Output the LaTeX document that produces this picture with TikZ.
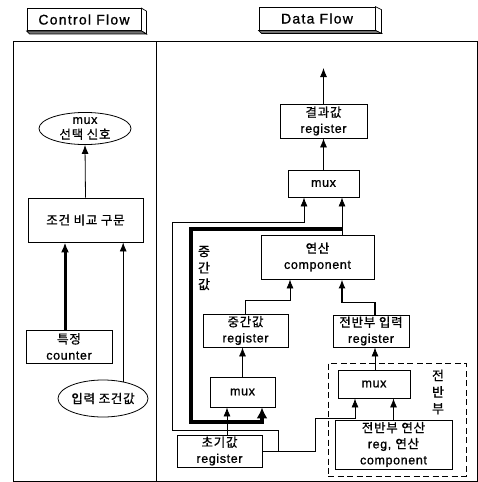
\documentclass[tikz,border=0pt]{standalone}
\usepackage{fontspec}
\setmainfont{Liberation Sans}[LetterSpace=5,FakeBold=1]
\newfontfamily\kr{Noto Sans CJK KR}[LetterSpace=6,FakeBold=0.8]
\usetikzlibrary{arrows.meta,shapes.geometric,calc}

\tikzset{
  panel/.style={draw, line width=0.9pt},
  box/.style={draw, line width=0.8pt, fill=white, align=center, inner sep=0pt,
    font=\fontsize{12.5}{16}\selectfont},
  oval/.style={ellipse, draw, line width=0.8pt, fill=white, align=center, inner sep=0pt,
    font=\fontsize{12.5}{15}\selectfont},
  hdr/.style={draw, line width=0.8pt, fill=white, inner sep=0pt,
    font=\fontsize{14}{16}\selectfont\addfontfeature{LetterSpace=9}},
  grp/.style={draw, line width=1pt, dash pattern=on 6pt off 3.5pt, inner sep=0pt},
  vlabel/.style={align=center, inner sep=0pt, font=\kr\fontsize{13}{16.5}\selectfont},
  wire/.style={line width=0.8pt},
  arr/.style={wire, -{Latex[length=9pt,width=7pt]}},
  medarr/.style={line width=1.6pt, -{Latex[length=9pt,width=7pt]}},
  thickarr/.style={line width=3pt, -{Latex[length=10pt,width=8pt]}},
  loop/.style={line width=3.2pt, -{Latex[length=11pt,width=11pt]}},
  side/.style={draw, line width=0.7pt, fill=white},
  base/.style={draw, line width=0.7pt, fill=black!55},
}

\begin{document}
\begin{tikzpicture}[x=1pt,y=-1pt]
\useasboundingbox (0,0) rectangle (478,482);

% ---- headers with raised 3D edges ----
\node[hdr, minimum width=114pt, minimum height=22pt] (cfh) at (84,19.5) {Control Flow};
\draw[side] (cfh.north east) -- ++(5,3) -- ([shift={(5,3)}]cfh.south east) -- (cfh.south east) -- cycle;
\draw[base] (cfh.south west) -- ++(3,3) -- ([shift={(5,3)}]cfh.south east) -- (cfh.south east) -- cycle;

\node[hdr, minimum width=116pt, minimum height=23pt] (dfh) at (317,18.5) {Data Flow};
\draw[side] (dfh.north east) -- ++(6,3) -- ([shift={(6,3)}]dfh.south east) -- (dfh.south east) -- cycle;
\draw[base] (dfh.south west) -- ++(3,3) -- ([shift={(6,3)}]dfh.south east) -- (dfh.south east) -- cycle;

% ---- panels ----
\draw[panel] (13,41) rectangle (477,481);
\draw[panel] (156,41) -- (156,481);

% ---- control flow ----
\node[oval, minimum width=92pt, minimum height=27pt] (msel) at (85,128.5) {mux\\{\kr 선택 신호}};
\node[box, minimum width=115pt, minimum height=44pt] (cmp) at (85.5,220) {{\kr 조건 비교 구문}};
\node[box, minimum width=86pt, minimum height=33pt] (cnt) at (69,346.5) {{\kr 특정}\\counter};
\node[oval, minimum width=90pt, minimum height=37pt] (inp) at (103,398.5) {{\kr 입력 조건값}};

\draw[arr] (cmp.north) -- (msel.south);
\draw[thickarr] ([xshift=-4pt]cnt.north) -- ([xshift=-4pt]cnt.north |- cmp.south);
\draw[arr] (inp.40) -- (inp.40 |- cmp.south);

% ---- data flow ----
\node[grp, minimum width=138pt, minimum height=113pt] (front) at (397,419.5) {};
\node[vlabel] (frontlbl) at (438,392) {전\\반\\부};

\node[box, minimum width=87pt, minimum height=34pt] (res) at (323.5,121) {{\kr 결과값}\\register};
\node[box, minimum width=71pt, minimum height=27pt] (mux1) at (323.5,183.5) {mux};
\node[box, minimum width=113pt, minimum height=44pt] (alu) at (317.5,257) {{\kr 연산}\\component};
\node[vlabel] (midlbl) at (204,268) {중\\간\\값};
\node[box, minimum width=85pt, minimum height=33pt] (midreg) at (245.5,330.5) {{\kr 중간값}\\register};
\node[box, minimum width=76pt, minimum height=32pt] (inreg) at (371,331) {{\kr 전반부 입력}\\register};
\node[box, minimum width=65pt, minimum height=30pt] (mux2) at (242.5,392) {mux};
\node[box, minimum width=72pt, minimum height=28pt] (mux3) at (374,384) {mux};
\node[box, minimum width=85pt, minimum height=32pt] (init) at (219.5,451) {{\kr 초기값}\\register};
\node[box, minimum width=117pt, minimum height=49pt] (fop) at (393.5,444.5) {{\kr 전반부 연산}\\reg, {\kr 연산}\\component};

% input ports
\coordinate (out) at (323.5,68);
\coordinate (m1l) at ([xshift=-19.5pt]mux1.south);
\coordinate (m1r) at ([xshift=18.5pt]mux1.south);
\coordinate (a1l) at ([xshift=-27.5pt]alu.south);
\coordinate (a1r) at ([xshift=24.5pt]alu.south);
\coordinate (m2l) at ([xshift=-15.5pt]mux2.south);
\coordinate (m2r) at ([xshift=19.5pt]mux2.south);
\coordinate (m3l) at ([xshift=-19pt]mux3.south);

% result path
\draw[arr] (res.north) -- (out);
\draw[arr] (mux1.north) -- (res.south);
\draw[arr] (alu.north -| m1r) -- (m1r);

% intermediate value fed back
\draw[loop] (m1r |- 0,229) -| (191,422) -| (m2r);

% register outputs into the operator
\draw[arr] (midreg.north) -- ++(0,-13) -| (a1l);
\draw[medarr] ([xshift=4pt]inreg.north) -- ++(0,-12) -| (a1r);
\draw[arr] (mux2.north) -- (mux2.north |- midreg.south);
\draw[arr] ([xshift=1pt]mux3.north) -- ([xshift=1pt]mux3.north |- inreg.south);

% initial value distribution
\draw[arr] (m2l |- init.north) -- (m2l);
\draw[arr] (init.east) -| (315,418) -| (m3l);
\draw[arr] (278,451) -- (278,430) -| (172,222) -| (m1l);
\draw[arr] (fop.north) -- (fop.north |- mux3.south);
\end{tikzpicture}
\end{document}
